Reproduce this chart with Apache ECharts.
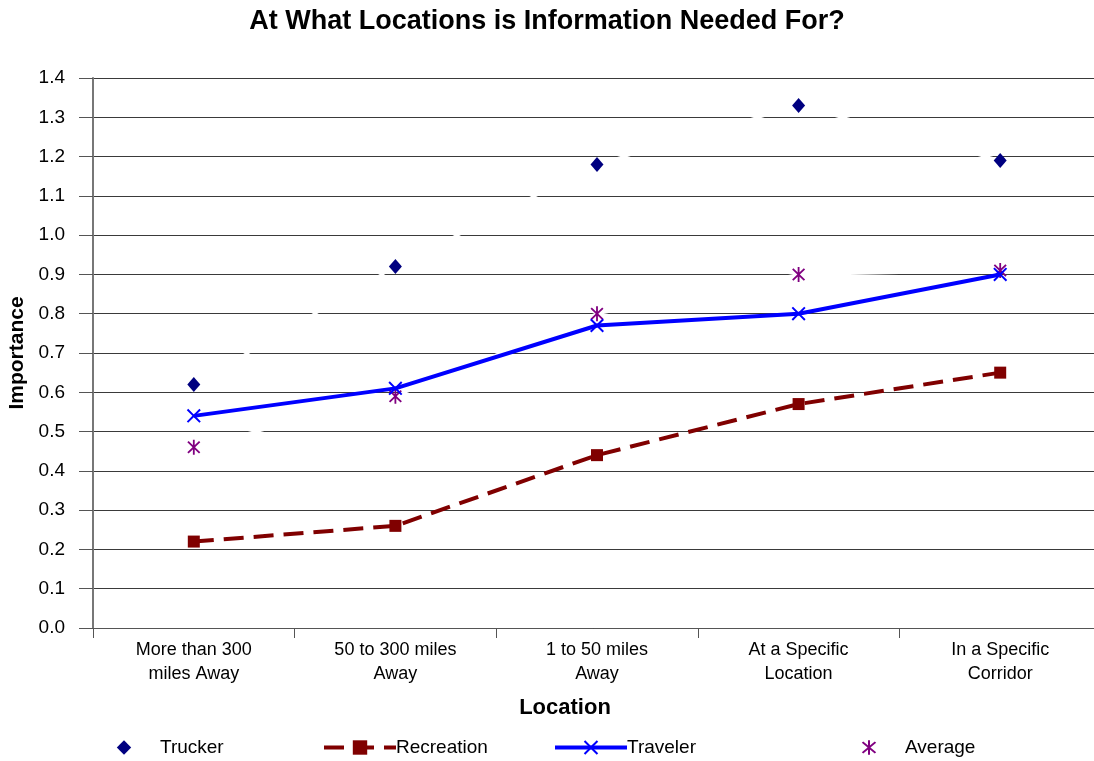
<!DOCTYPE html>
<html>
<head>
<meta charset="utf-8">
<script src="https://cdn.jsdelivr.net/npm/echarts@6/dist/echarts.min.js"></script>
<style>
  html, body { margin: 0; padding: 0; background: #fff; }
  #chart { width: 1094px; height: 761px; }
</style>
</head>
<body>
<div id="chart"></div>
<script>
const categories = ['More than 300\nmiles Away', '50 to 300 miles\nAway', '1 to 50 miles\nAway', 'At a Specific\nLocation', 'In a Specific\nCorridor']
const trucker = [0.62, 0.92, 1.18, 1.33, 1.19]
const recreation = [0.22, 0.26, 0.44, 0.57, 0.65]
const traveler = [0.54, 0.61, 0.77, 0.80, 0.90]
const average = [0.46, 0.59, 0.80, 0.90, 0.91]

// filled X and asterisk shapes
const xMark = 'path://M0,1L1,0L5,4L9,0L10,1L6,5L10,9L9,10L5,6L1,10L0,9L4,5Z'
const starMark = 'path://M0,1L1,0L5,4L9,0L10,1L6,5L10,9L9,10L5,6L1,10L0,9L4,5ZM4.3,-1L5.7,-1L5.7,11L4.3,11Z'

const font = 'Liberation Sans, Arial, sans-serif'
const mychart = echarts.init(document.getElementById('chart'))

function legendAt(name, left){
  return {
    data: [name],
    left: left,
    top: 738,
    padding: 0,
    itemWidth: 72,
    itemHeight: 18,
    itemGap: 0,
    lineStyle: { width: 4 },
    textStyle: { fontFamily: font, fontSize: 19, color: '#000', padding: [0, 0, 0, -5] }
  }
}

const option = {
  animation: false,
  title: {
    text: 'At What Locations is Information Needed For?',
    left: 'center',
    top: 3,
    textStyle: { fontFamily: font, fontSize: 27, fontWeight: 'bold', color: '#000' }
  },
  legend: [
    legendAt('Trucker', 86),
    legendAt('Recreation', 322),
    legendAt('Traveler', 553),
    legendAt('Average', 831)
  ],
  grid: { left: 93, right: -7, top: 78, bottom: 133, outerBoundsMode: 'none' },
  xAxis: {
    type: 'category',
    data: categories,
    name: 'Location',
    nameLocation: 'middle',
    nameGap: 69,
    nameTextStyle: { fontFamily: font, fontSize: 22, fontWeight: 'bold', color: '#000', padding: [0, 64, 0, 0] },
    axisLine: { lineStyle: { color: '#555', width: 1 } },
    axisTick: { show: true, length: 10, lineStyle: { color: '#555' } },
    axisLabel: { fontFamily: font, fontSize: 18, color: '#000', margin: 10, lineHeight: 24, interval: 0 }
  },
  yAxis: {
    type: 'value',
    min: 0,
    max: 1.4,
    interval: 0.1,
    name: 'Importance',
    nameLocation: 'middle',
    nameGap: 65,
    nameTextStyle: { fontFamily: font, fontSize: 21, fontWeight: 'bold', color: '#000' },
    axisLine: { show: true, lineStyle: { color: '#777', width: 2 } },
    axisTick: { show: true, length: 14, lineStyle: { color: '#555' } },
    axisLabel: { fontFamily: font, fontSize: 19, color: '#000', margin: 28, formatter: v => v.toFixed(1) },
    splitLine: { show: true, lineStyle: { color: '#3a3a3a', width: 1 } }
  },
  series: [
    {
      name: 'Trucker',
      type: 'line',
      data: trucker,
      z: 2,
      symbol: 'diamond',
      symbolSize: [13, 15],
      lineStyle: { color: '#ffffff', width: 3 },
      itemStyle: { color: '#000080' }
    },
    {
      name: 'Recreation',
      type: 'line',
      data: recreation,
      z: 4,
      symbol: 'rect',
      symbolSize: 12,
      lineStyle: { color: '#800000', width: 4, type: [20, 10] },
      itemStyle: { color: '#800000' }
    },
    {
      name: 'Traveler',
      type: 'line',
      data: traveler,
      z: 4,
      symbol: xMark,
      symbolSize: 14,
      lineStyle: { color: '#0000ff', width: 4 },
      itemStyle: { color: '#0000ff' }
    },
    {
      name: 'Average',
      type: 'line',
      data: average,
      z: 3,
      symbol: starMark,
      symbolSize: [13, 15],
      lineStyle: { color: '#ffffff', width: 3 },
      itemStyle: { color: '#800080' }
    }
  ]
}
mychart.setOption(option, true)
</script>
</body>
</html>
